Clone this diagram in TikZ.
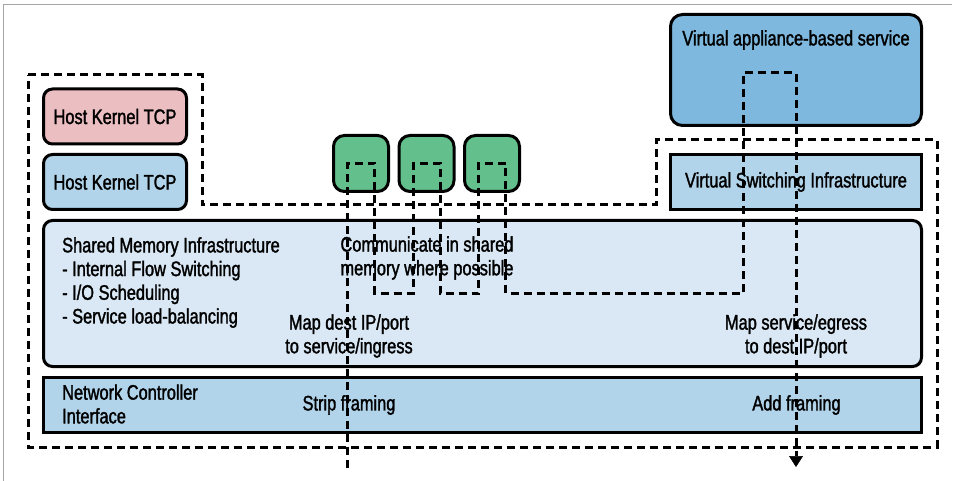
\documentclass[tikz,border=0pt]{standalone}
\usepackage{fontspec}
\setmainfont{Liberation Sans}[FakeStretch=0.78, FakeBold=1.5]
\usepackage{xcolor}
\usetikzlibrary{arrows.meta, positioning}

\definecolor{hostpink}{HTML}{EBBEC1}
\definecolor{hostblue}{HTML}{B1D4EA}
\definecolor{vmgreen}{HTML}{63BF8B}
\definecolor{vablue}{HTML}{7EB8DE}
\definecolor{shmblue}{HTML}{D9E8F4}

\begin{document}
\begin{tikzpicture}[
    x=1pt, y=-1pt,
    node distance=7.5pt,
    txt/.style={font=\fontsize{21}{23.7}\selectfont, align=center, inner sep=0pt},
    ltxt/.style={txt, align=left},
    rbox/.style={rectangle, rounded corners=9pt, draw, line width=3pt, inner sep=0pt, font=\fontsize{21}{23.7}\selectfont},
    sbox/.style={rectangle, draw, line width=3pt, inner sep=0pt, font=\fontsize{21}{23.7}\selectfont},
    vmbox/.style={rbox, fill=vmgreen, rounded corners=11pt, minimum width=55pt, minimum height=56pt},
    outline/.style={line width=3pt, dash pattern=on 8pt off 5pt},
    flow/.style={line width=3pt, dash pattern=on 8pt off 5pt}
]
\useasboundingbox (0,0) rectangle (956,481);
\draw[gray!70, line width=1pt] (3,481) -- (3,5) -- (952,5);

% Dashed host boundary
\draw[outline] (28,75) -- (202,75) -- (202,205) -- (656,205) -- (656,140) -- (937,140) -- (937,447) -- (28,447) -- cycle;

\node[rbox, fill=hostpink, minimum width=143pt, minimum height=55pt] (hkpink) at (115,116.5) {Host Kernel TCP};
\node[rbox, fill=hostblue, minimum width=143pt, minimum height=55pt, below=of hkpink] (hkblue) {Host Kernel TCP};

\node[vmbox] (vm1) at (361,163.5) {};
\node[vmbox, right=of vm1] (vm2) {};
\node[vmbox, right=of vm2] (vm3) {};

\node[rbox, fill=vablue, rounded corners=12pt, minimum width=251pt, minimum height=111pt] (va) at (796,70) {};
\node[txt] (vatitle) at (796,40) {Virtual appliance-based service};
\node[sbox, fill=hostblue, minimum width=251pt, minimum height=55pt] (vsi) at (796,182) {Virtual Switching Infrastructure};

\node[rbox, fill=shmblue, minimum width=878pt, minimum height=146pt] (shm) at (482.5,293.5) {};
\node[sbox, fill=hostblue, minimum width=878pt, minimum height=55pt, below=of shm] (nci) {};

% Texts
\node[ltxt, anchor=west] (shmtext) at (62,282.5) {Shared Memory Infrastructure\\- Internal Flow Switching\\- I/O Scheduling\\- Service load-balancing};
\node[txt] (commtext) at (427,258) {Communicate in shared\\memory where possible};
\node[txt] (ingresstext) at (349,336) {Map dest IP/port\\to service/ingress};
\node[txt] (egresstext) at (796,336) {Map service/egress\\to dest IP/port};
\node[ltxt, anchor=west] (ncitext) at (62,404) {Network Controller\\Interface};
\node[txt] (striptext) at (349,405) {Strip framing};
\node[txt] (addtext) at (796.5,405) {Add framing};

% Packet path
\coordinate (ingress) at (347,468);
\coordinate (egress) at (796,467);
\foreach \v in {vm1,vm2,vm3} {
    \coordinate (\v-in) at ([xshift=-13.5pt]\v.center);
    \coordinate (\v-out) at ([xshift=13.5pt]\v.center);
}
\coordinate (va-in) at ([xshift=-53pt,yshift=-3pt]va.center);
\coordinate (va-out) at ([yshift=-3pt]va.center);

\draw[flow, -{Triangle[width=14pt, length=11pt, line width=0.5pt]}] (ingress) |- (vm1-out) |- (vm2-in |- shm.center) |- (vm2-out) |- (vm3-in |- shm.center) |- (vm3-out) |- (va-in |- shm.center) |- (va-out) -- (egress);
\end{tikzpicture}
\end{document}
